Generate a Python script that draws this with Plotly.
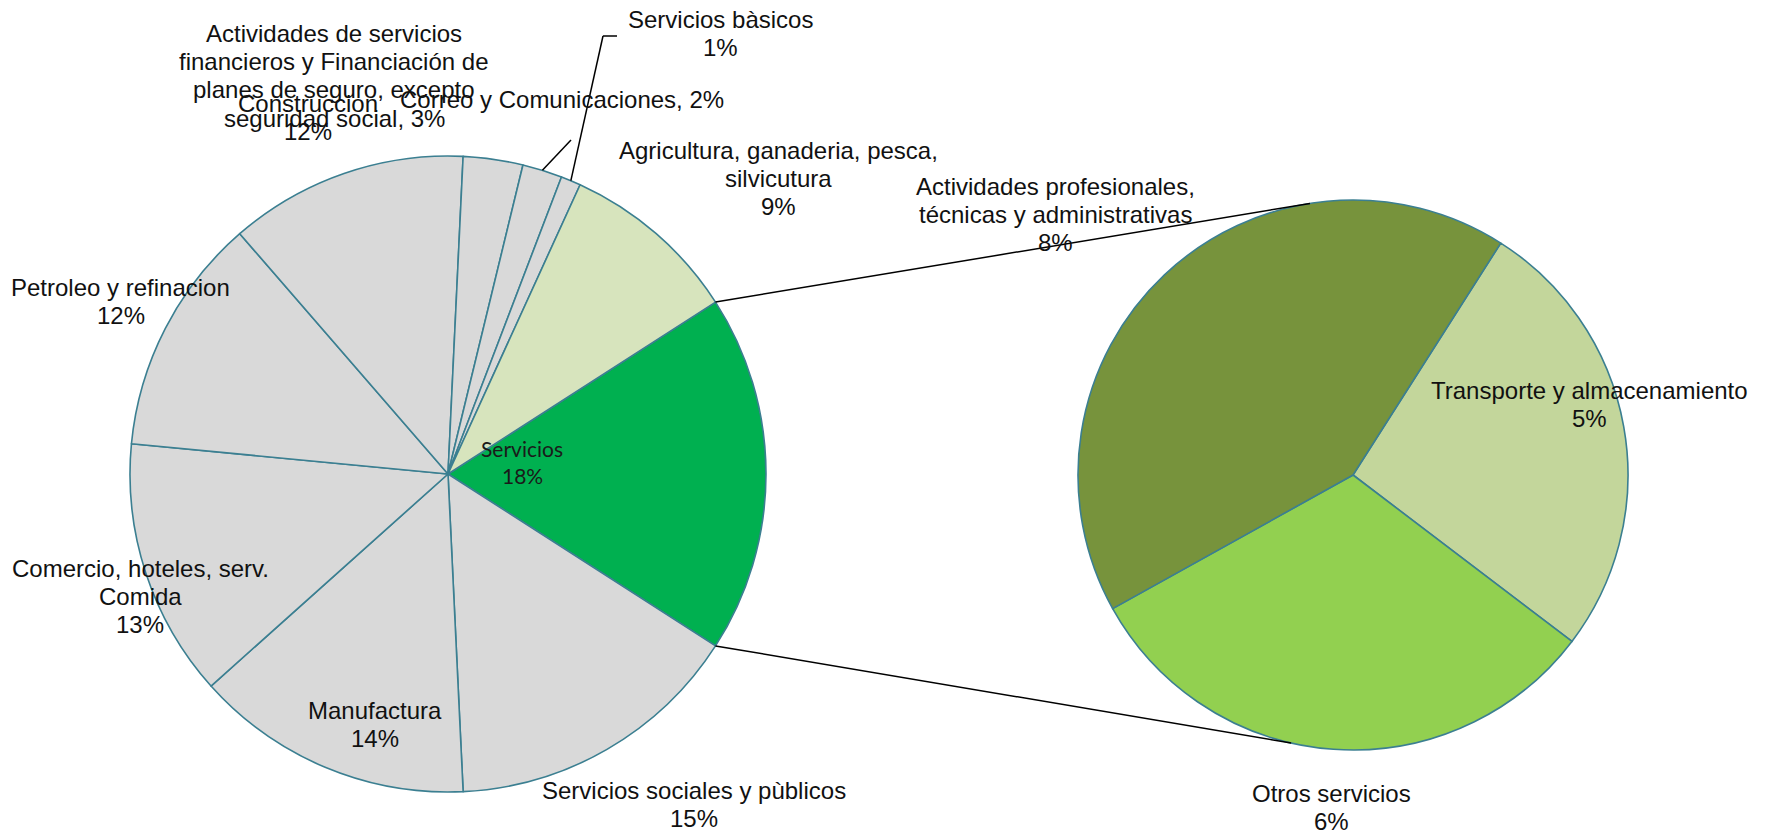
import math
import plotly.graph_objects as go

# figure size (the page adds an 8px body margin, so the figure is 8px smaller)
OFF = 8
W, H = 1769 - OFF, 832 - OFF

# ---------------- data ----------------
main_labels = ["Servicios", "Servicios sociales y pùblicos", "Manufactura",
               "Comercio, hoteles, serv. Comida", "Petroleo y refinacion", "Construccion",
               "Actividades de servicios financieros y Financiación de planes de seguro, excepto seguridad social",
               "Correo y Comunicaciones", "Servicios bàsicos",
               "Agricultura, ganaderia, pesca, silvicutura"]
main_values = [18, 15, 14, 13, 12, 12, 3, 2, 1, 9]
main_texts = ["Servicios<br>18%",
              "Servicios sociales y pùblicos<br>15%",
              "Manufactura<br>14%",
              "Comercio, hoteles, serv.<br>Comida<br>13%",
              "Petroleo y refinacion<br>12%",
              "Construccion<br>12%",
              "Actividades de servicios<br>financieros y Financiación de<br>planes de seguro, excepto<br>seguridad social, 3%",
              "Correo y Comunicaciones, 2%",
              "Servicios bàsicos<br>1%",
              "Agricultura, ganaderia, pesca,<br>silvicutura<br>9%"]

sub_labels = ["Transporte y almacenamiento", "Otros servicios",
              "Actividades profesionales, técnicas y administrativas"]
sub_values = [5, 6, 8]
sub_texts = ["Transporte y almacenamiento<br>5%",
             "Otros servicios<br>6%",
             "Actividades profesionales,<br>técnicas y administrativas<br>8%"]

# ---------------- styles / layout ----------------
GRAY = "#D9D9D9"
main_colors = ["#00B050", GRAY, GRAY, GRAY, GRAY, GRAY, GRAY, GRAY, GRAY, "#D7E4BD"]
sub_colors = ["#C3D69B", "#92D050", "#77933C"]
EDGE = "#3B7F91"

# geometry in window pixels
main_c, main_r = (448, 474), 318
sub_c, sub_r = (1353, 475), 275

# label positions (window-pixel centres of each text block)
main_label_pos = [(522, 462), (694, 804), (375, 724), (140, 596), (121, 301),
                  (308, 118), (334, 76), (562, 99), (720, 33), (778, 178)]
sub_label_pos = [(1589, 404), (1331, 807), (1055, 214)]
LINE_H = 28


def px(x, y):
    return (x - OFF) / W, 1 - (y - OFF) / H


def dom(c, r):
    x0, y1 = px(c[0] - r, c[1] - r)
    x1, y0 = px(c[0] + r, c[1] + r)
    return dict(x=[x0, x1], y=[y0, y1])


tot_main = sum(main_values)
serv_ang = main_values[0] / tot_main * 360
main_rot = 90 - serv_ang / 2

fig = go.Figure()
fig.add_trace(go.Pie(
    labels=main_labels, values=main_values, sort=False, direction="clockwise",
    rotation=main_rot, textinfo="none", hoverinfo="label+percent",
    marker=dict(colors=main_colors, line=dict(color=EDGE, width=1.6)),
    domain=dom(main_c, main_r), showlegend=False))

sub_rot = 32.5
fig.add_trace(go.Pie(
    labels=sub_labels, values=sub_values, sort=False, direction="clockwise",
    rotation=sub_rot, textinfo="none", hoverinfo="label+percent",
    marker=dict(colors=sub_colors, line=dict(color=EDGE, width=1.6)),
    domain=dom(sub_c, sub_r), showlegend=False))

annotations = []
ARIAL = dict(family="Liberation Sans, Arial, sans-serif", size=24, color="#111111")
GOTHIC = dict(family="Lato, Open Sans, sans-serif", size=21, color="#1a1a1a")


def add_label(text, pos, font, lh):
    lines = text.split("<br>")
    n = len(lines)
    for i, ln in enumerate(lines):
        yc = pos[1] + (i - (n - 1) / 2) * lh
        x, y = px(pos[0], yc)
        annotations.append(dict(text=ln, x=x, y=y, xref="paper", yref="paper",
                                xanchor="center", yanchor="middle", align="center",
                                showarrow=False, font=font))


for i, (t, p) in enumerate(zip(main_texts, main_label_pos)):
    add_label(t, p, GOTHIC if i == 0 else ARIAL, 27 if i == 0 else LINE_H)
for t, p in zip(sub_texts, sub_label_pos):
    add_label(t, p, ARIAL, LINE_H)

shapes = []


def pt_on(c, r, ang_cw_from_top):
    a = math.radians(ang_cw_from_top)
    return c[0] + r * math.sin(a), c[1] - r * math.cos(a)


def line(p1, p2):
    x0, y0 = px(*p1)
    x1, y1 = px(*p2)
    shapes.append(dict(type="line", xref="paper", yref="paper", x0=x0, y0=y0, x1=x1, y1=y1,
                       line=dict(color="black", width=1.5)))


# connector lines between pies
top_main = pt_on(main_c, main_r, main_rot)
bot_main = pt_on(main_c, main_r, main_rot + serv_ang)
line(top_main, pt_on(sub_c, sub_r, -9))
line(bot_main, pt_on(sub_c, sub_r, 193))

# leader lines for small slices
cum = 0
mids = []
for v in main_values:
    mids.append(main_rot + (cum + v / 2) / tot_main * 360)
    cum += v
line(pt_on(main_c, main_r, mids[7]), (571, 140))
line(pt_on(main_c, main_r, mids[8]), (603, 36))
line((603, 36), (617, 36))

fig.update_layout(width=W, height=H, margin=dict(l=0, r=0, t=0, b=0),
                  paper_bgcolor="white", plot_bgcolor="white",
                  annotations=annotations, shapes=shapes, showlegend=False)

fig.write_html("out.html")
